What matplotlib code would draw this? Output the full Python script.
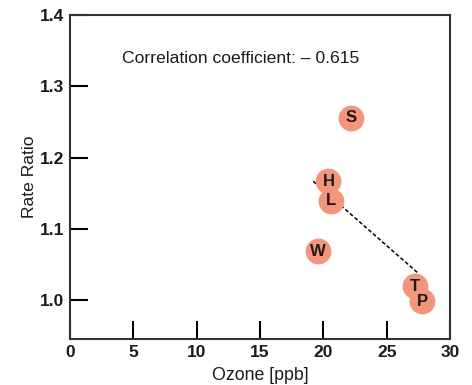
import numpy as np
import matplotlib.pyplot as plt

plt.rcParams['font.family'] = ['Liberation Sans', 'DejaVu Sans']

# seasonal rate ratios against mean ozone
seasons = ["S", "H", "L", "W", "T", "P"]
ozone = [22.2, 20.4, 20.6, 19.6, 27.2, 27.8]
rate_ratio = [1.256, 1.167, 1.140, 1.069, 1.020, 0.999]

# fitted trend endpoints
trend_x = [19.2, 27.5]
trend_y = [1.167, 1.038]

x_ticks = [0, 5, 10, 15, 20, 25, 30]
y_ticks = [1.0, 1.1, 1.2, 1.3, 1.4]

fig = plt.figure(figsize=(4.72, 3.85), dpi=100)
ax = fig.add_axes([70 / 472, 1 - 339 / 385, 380 / 472, 324 / 385])

ax.plot(trend_x, trend_y, color="black", lw=1.1, ls=(0, (2.5, 1.5)), zorder=1)
ax.plot(ozone, rate_ratio, "o", ms=18.5, color="#f4957a", mec="none", zorder=2)
for s, x, y in zip(seasons, ozone, rate_ratio):
    ax.text(x, y, s, ha="center", va="center", fontsize=12,
            fontweight="semibold", color="#1a1a1a", zorder=3)

ax.text(0.137, 0.865, "Correlation coefficient: \u2013 0.615", transform=ax.transAxes,
        fontsize=12.6, color="#1a1a1a", ha="left", va="center")

ax.set_xlim(0, 30)
ax.set_ylim(0.946, 1.4)
ax.set_xticks(x_ticks)
ax.set_yticks(y_ticks)
ax.set_xticklabels([str(t) for t in x_ticks])
ax.set_yticklabels([f"{t:.1f}" for t in y_ticks])
ax.tick_params(direction="in", length=13, width=1.5, labelsize=12.5, pad=4,
               labelcolor="#1a1a1a")
for lab in ax.get_xticklabels() + ax.get_yticklabels():
    lab.set_fontweight("bold")
for sp in ax.spines.values():
    sp.set_linewidth(1.5)
    sp.set_color("#333333")

ax.set_xlabel("Ozone [ppb]", fontsize=12.8, labelpad=5, color="#1a1a1a")
ax.set_ylabel("Rate Ratio", fontsize=12.6, labelpad=2, color="#1a1a1a")

fig.savefig("out.png", dpi=100)
